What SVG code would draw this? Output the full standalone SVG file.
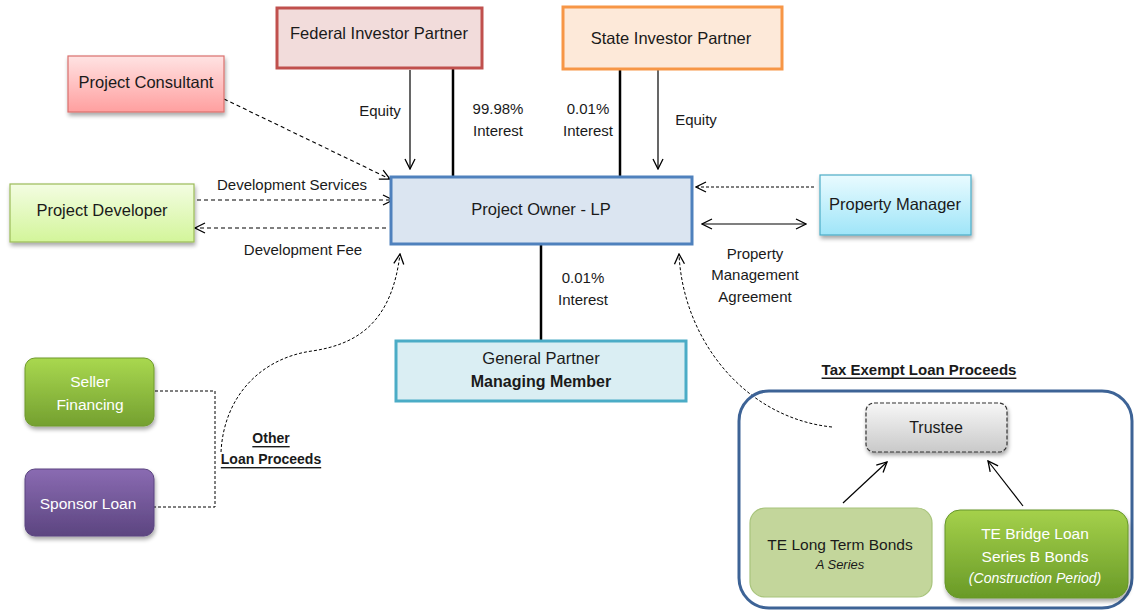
<svg xmlns="http://www.w3.org/2000/svg" width="1134" height="613" viewBox="0 0 1134 613">
<style>
text{font-family:"Liberation Sans",Arial,sans-serif;fill:#1a1a1a;}
.node{font-size:16.5px;text-anchor:middle;dominant-baseline:central;}
.lbl{font-size:15px;text-anchor:middle;dominant-baseline:central;}
.white{fill:#ffffff;}
.bold{font-weight:bold;}
.ul{text-decoration:underline;font-weight:bold;}
.solid{stroke:#000;stroke-width:1.2;fill:none;}
.thick{stroke:#000;stroke-width:2.5;fill:none;}
.dash{stroke:#000;stroke-width:1.1;fill:none;stroke-dasharray:4 3;}
.dashf{stroke:#000;stroke-width:1;fill:none;stroke-dasharray:3 2;}
</style>
<defs>
<marker id="arr" viewBox="0 0 12 12" refX="11" refY="6" markerWidth="12" markerHeight="12" markerUnits="userSpaceOnUse" orient="auto-start-reverse">
<path d="M1 1 L11 6 L1 11" fill="none" stroke="#000" stroke-width="1.3" stroke-dasharray="none"/>
</marker>
<filter id="sh" x="-10%" y="-10%" width="125%" height="135%">
<feGaussianBlur in="SourceAlpha" stdDeviation="2"/>
<feOffset dx="1" dy="3" result="b"/>
<feComponentTransfer><feFuncA type="linear" slope="0.35"/></feComponentTransfer>
<feMerge><feMergeNode/><feMergeNode in="SourceGraphic"/></feMerge>
</filter>
<linearGradient id="gCons" x1="0" y1="0" x2="0" y2="1"><stop offset="0" stop-color="#ffe3e3"/><stop offset="1" stop-color="#ff9f9f"/></linearGradient>
<linearGradient id="gDev" x1="0" y1="0" x2="0" y2="1"><stop offset="0" stop-color="#f3fde2"/><stop offset="1" stop-color="#d3f59a"/></linearGradient>
<linearGradient id="gPM" x1="0" y1="0" x2="0" y2="1"><stop offset="0" stop-color="#e9fbff"/><stop offset="1" stop-color="#9fe5f8"/></linearGradient>
<linearGradient id="gSel" x1="0" y1="0" x2="0" y2="1"><stop offset="0" stop-color="#a9d84f"/><stop offset="1" stop-color="#74a030"/></linearGradient>
<linearGradient id="gSpo" x1="0" y1="0" x2="0" y2="1"><stop offset="0" stop-color="#8a6bb2"/><stop offset="1" stop-color="#5c4580"/></linearGradient>
<linearGradient id="gTru" x1="0" y1="0" x2="0" y2="1"><stop offset="0" stop-color="#f7f7f7"/><stop offset="1" stop-color="#c9c9c9"/></linearGradient>
<linearGradient id="gBr" x1="0" y1="0" x2="0" y2="1"><stop offset="0" stop-color="#a5d14b"/><stop offset="1" stop-color="#699a27"/></linearGradient>
</defs>

<g id="connectors">
<line class="solid" x1="410" y1="70" x2="410" y2="169" marker-end="url(#arr)"/>
<line class="thick" x1="453" y1="69" x2="453" y2="176"/>
<line class="thick" x1="620" y1="69" x2="620" y2="176"/>
<line class="solid" x1="658" y1="70" x2="658" y2="169" marker-end="url(#arr)"/>
<line class="dash" x1="224" y1="99" x2="390" y2="179" marker-end="url(#arr)"/>
<line class="dash" x1="197" y1="200" x2="393" y2="200" marker-end="url(#arr)"/>
<line class="dash" x1="386" y1="228" x2="195" y2="228" marker-end="url(#arr)"/>
<line class="dashf" x1="814" y1="187" x2="696" y2="187" marker-end="url(#arr)"/>
<line class="solid" x1="702" y1="224" x2="806" y2="224" marker-start="url(#arr)" marker-end="url(#arr)"/>
<line class="thick" x1="541" y1="244" x2="541" y2="341"/>
<path class="dashf" d="M155 391 H215 V507 H150"/>
<path class="dashf" d="M221 452 C224 395 262 358 312 351 C360 344 392 320 400 254" marker-end="url(#arr)"/>
<path class="dashf" d="M832 427 C745 418 683 340 679 254" marker-end="url(#arr)"/>
<line class="solid" x1="843" y1="503" x2="887" y2="462" marker-end="url(#arr)"/>
<line class="solid" x1="1023" y1="506" x2="988" y2="461" marker-end="url(#arr)"/>
</g>

<g id="labels">
<text class="lbl" x="380" y="110">Equity</text>
<text class="lbl" x="498" y="108">99.98%</text>
<text class="lbl" x="498" y="130">Interest</text>
<text class="lbl" x="588" y="108">0.01%</text>
<text class="lbl" x="588" y="130">Interest</text>
<text class="lbl" x="696" y="119">Equity</text>
<text class="lbl" x="292" y="184">Development Services</text>
<text class="lbl" x="303" y="249">Development Fee</text>
<text class="lbl" x="755" y="253">Property</text>
<text class="lbl" x="755" y="274">Management</text>
<text class="lbl" x="755" y="296">Agreement</text>
<text class="lbl" x="583" y="277">0.01%</text>
<text class="lbl" x="583" y="299">Interest</text>
<text class="lbl ul" x="271" y="438" style="font-size:14px">Other</text>
<text class="lbl ul" x="271" y="459" style="font-size:14px">Loan Proceeds</text>
<text class="lbl ul" x="919" y="369">Tax Exempt Loan Proceeds</text>
</g>

<g id="federal">
<rect x="277" y="8" width="205" height="60" fill="#f2dcdb" stroke="#c0504d" stroke-width="3"/>
<text class="node" x="379" y="33">Federal Investor Partner</text>
</g>
<g id="state">
<rect x="563" y="7" width="219" height="62" fill="#fde9d9" stroke="#f79646" stroke-width="3"/>
<text class="node" x="671" y="38">State Investor Partner</text>
</g>
<g id="consultant">
<rect x="68" y="56" width="156" height="56" fill="url(#gCons)" stroke="#d9706d" stroke-width="1.2" filter="url(#sh)"/>
<text class="node" x="146" y="82">Project Consultant</text>
</g>
<g id="developer">
<rect x="10" y="184" width="184" height="58" fill="url(#gDev)" stroke="#9bbb59" stroke-width="1.2" filter="url(#sh)"/>
<text class="node" x="102" y="210">Project Developer</text>
</g>
<g id="owner">
<rect x="391" y="177" width="301" height="67" fill="#dbe5f1" stroke="#4f81bd" stroke-width="3"/>
<text class="node" x="541" y="209">Project Owner - LP</text>
</g>
<g id="propmgr">
<rect x="820" y="175" width="151" height="60" fill="url(#gPM)" stroke="#4bacc6" stroke-width="1.2" filter="url(#sh)"/>
<text class="node" x="895" y="204">Property Manager</text>
</g>
<g id="gp">
<rect x="396" y="341" width="290" height="60" fill="#daeef3" stroke="#4bacc6" stroke-width="3"/>
<text class="node" x="541" y="358">General Partner</text>
<text class="node bold" x="541" y="381" style="font-size:16px">Managing Member</text>
</g>
<g id="seller">
<rect x="25" y="358" width="129" height="68" rx="10" fill="url(#gSel)" stroke="#6f9a2c" stroke-width="1" filter="url(#sh)"/>
<text class="node white" x="90" y="381" style="font-size:15.5px">Seller</text>
<text class="node white" x="90" y="404" style="font-size:15.5px">Financing</text>
</g>
<g id="sponsor">
<rect x="25" y="469" width="129" height="67" rx="10" fill="url(#gSpo)" stroke="#5a4480" stroke-width="1" filter="url(#sh)"/>
<text class="node white" x="88" y="503" style="font-size:15.5px">Sponsor Loan</text>
</g>
<g id="taxexempt">
<rect x="739" y="391" width="393" height="217" rx="30" fill="none" stroke="#3d6396" stroke-width="3"/>
</g>
<g id="trustee">
<rect x="866" y="403" width="141" height="49" rx="8" fill="url(#gTru)" stroke="#333" stroke-width="1.2" stroke-dasharray="4 2" filter="url(#sh)"/>
<text class="node" x="936" y="427" style="font-size:16px">Trustee</text>
</g>
<g id="telong">
<rect x="750" y="508" width="182" height="89" rx="15" fill="#c3d69b" stroke="#a8c47c" stroke-width="1.2"/>
<text class="node" x="840" y="544" style="font-size:15.5px">TE Long Term Bonds</text>
<text class="node" x="840" y="564" style="font-size:13px;font-style:italic">A Series</text>
</g>
<g id="tebridge">
<rect x="945" y="510" width="183" height="88" rx="15" fill="url(#gBr)" stroke="#66962a" stroke-width="1" filter="url(#sh)"/>
<text class="node white" x="1035" y="533" style="font-size:15.5px">TE Bridge Loan</text>
<text class="node white" x="1035" y="556" style="font-size:15.5px">Series B Bonds</text>
<text class="node white" x="1035" y="578" style="font-size:14px;font-style:italic">(Construction Period)</text>
</g>
</svg>
